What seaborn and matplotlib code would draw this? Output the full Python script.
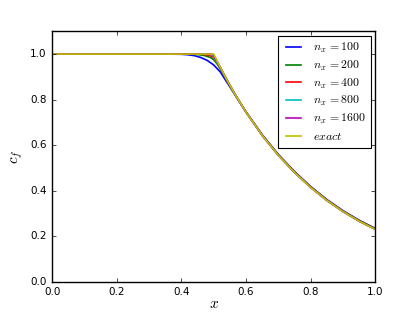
import numpy as np
import pandas as pd
import matplotlib
matplotlib.use("Agg")
import matplotlib.pyplot as plt
import seaborn as sns

#%% data
x_exact = [0.0, 0.5, 0.52, 0.54, 0.56, 0.58, 0.60, 0.65, 0.70, 0.75, 0.80, 0.85, 0.90, 0.95, 1.0]
c_exact = [1.0, 1.0, 0.943, 0.889, 0.838, 0.790, 0.745, 0.643, 0.555, 0.480, 0.414, 0.357, 0.308, 0.266, 0.230]

x_100 = [0.0, 0.35, 0.40, 0.42, 0.44, 0.46, 0.48, 0.50, 0.52, 0.54, 0.56, 0.58, 0.60, 0.65, 0.70, 0.75, 0.80, 0.85, 0.90, 0.95, 1.0]
c_100 = [1.0, 1.0, 0.999, 0.997, 0.993, 0.985, 0.972, 0.952, 0.922, 0.878, 0.834, 0.789, 0.746, 0.646, 0.559, 0.484, 0.418, 0.361, 0.312, 0.270, 0.234]

x_200 = [0.0, 0.42, 0.45, 0.47, 0.49, 0.50, 0.51, 0.52, 0.54, 0.56, 0.58, 0.60, 0.65, 0.70, 0.75, 0.80, 0.85, 0.90, 0.95, 1.0]
c_200 = [1.0, 1.0, 0.998, 0.994, 0.985, 0.975, 0.958, 0.935, 0.885, 0.836, 0.790, 0.745, 0.644, 0.557, 0.482, 0.416, 0.359, 0.310, 0.268, 0.232]

x_400 = [0.0, 0.46, 0.48, 0.49, 0.50, 0.51, 0.52, 0.54, 0.56, 0.58, 0.60, 0.65, 0.70, 0.75, 0.80, 0.85, 0.90, 0.95, 1.0]
c_400 = [1.0, 1.0, 0.996, 0.992, 0.985, 0.965, 0.940, 0.888, 0.838, 0.790, 0.745, 0.643, 0.556, 0.481, 0.415, 0.358, 0.309, 0.267, 0.231]

x_800 = [0.0, 0.48, 0.49, 0.495, 0.50, 0.505, 0.51, 0.52, 0.54, 0.56, 0.58, 0.60, 0.65, 0.70, 0.75, 0.80, 0.85, 0.90, 0.95, 1.0]
c_800 = [1.0, 1.0, 0.998, 0.995, 0.990, 0.977, 0.964, 0.942, 0.889, 0.838, 0.790, 0.745, 0.643, 0.555, 0.480, 0.414, 0.357, 0.308, 0.266, 0.230]

x_1600 = [0.0, 0.49, 0.495, 0.50, 0.505, 0.51, 0.52, 0.54, 0.56, 0.58, 0.60, 0.65, 0.70, 0.75, 0.80, 0.85, 0.90, 0.95, 1.0]
c_1600 = [1.0, 1.0, 0.999, 0.995, 0.982, 0.969, 0.943, 0.889, 0.838, 0.790, 0.745, 0.643, 0.555, 0.480, 0.414, 0.357, 0.308, 0.266, 0.230]

series = [
    (x_100, c_100, r"$n_x\,{=}100$", "b"),
    (x_200, c_200, r"$n_x\,{=}200$", "g"),
    (x_400, c_400, r"$n_x\,{=}400$", "r"),
    (x_800, c_800, r"$n_x\,{=}800$", "c"),
    (x_1600, c_1600, r"$n_x\,{=}1600$", "m"),
    (x_exact, c_exact, r"$exact$", "y"),
]

#%% style
plt.style.use("classic")
plt.rcParams["mathtext.fontset"] = "cm"
plt.rcParams["font.family"] = ["DejaVu Sans"]

fig = plt.figure(figsize=(4.17, 3.13), dpi=100, facecolor="white")
ax = fig.add_axes([0.125, 0.1, 0.775, 0.8])

for xs, cs, lab, col in series:
    df = pd.DataFrame({"x": xs, "c": cs})
    sns.lineplot(data=df, x="x", y="c", ax=ax, color=col, label=lab,
                 linewidth=1.2, sort=False)

ax.set_xlim(0, 1)
ax.set_ylim(0, 1.1)
ax.set_xticks([0.0, 0.2, 0.4, 0.6, 0.8, 1.0])
ax.set_yticks([0.0, 0.2, 0.4, 0.6, 0.8, 1.0])
ax.tick_params(labelsize=7.5, length=3, direction="in", top=True, right=True)
ax.set_xlabel(r"$x$", fontsize=11, labelpad=-1)
ax.set_ylabel(r"$c_f$", fontsize=11, labelpad=4)

leg = ax.legend(loc="upper right", fontsize=8.5, handlelength=1.9,
                handletextpad=0.7, labelspacing=0.33, borderpad=0.4,
                borderaxespad=0.4, fancybox=False)
leg.get_frame().set_linewidth(0.8)

fig.savefig("out.png", dpi=100, facecolor="white")
